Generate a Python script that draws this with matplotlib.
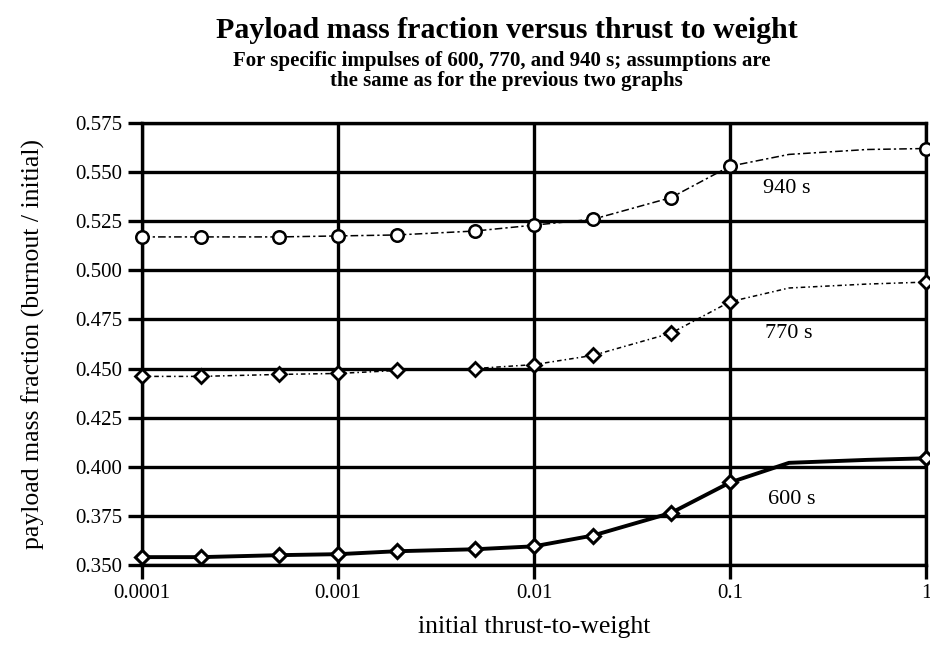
import matplotlib
matplotlib.use("Agg")
import matplotlib.pyplot as plt

plt.rcParams['font.family'] = ['Liberation Serif', 'DejaVu Serif']

# thrust-to-weight values (markers at every point except 0.2 and 0.5)
tw = [0.0001, 0.0002, 0.0005, 0.001, 0.002, 0.005, 0.01, 0.02, 0.05, 0.1, 0.2, 0.5, 1]
marked = [0, 1, 2, 3, 4, 5, 6, 7, 8, 9, 12]

isp940 = [0.517, 0.517, 0.517, 0.5175, 0.518, 0.520, 0.523, 0.526, 0.537, 0.553, 0.559, 0.5615, 0.562]
isp770 = [0.446, 0.446, 0.447, 0.4475, 0.449, 0.450, 0.452, 0.4567, 0.468, 0.484, 0.491, 0.493, 0.494]
isp600 = [0.354, 0.354, 0.355, 0.3555, 0.357, 0.358, 0.3595, 0.365, 0.3765, 0.392, 0.402, 0.4035, 0.4043]

yticks = [0.350, 0.375, 0.400, 0.425, 0.450, 0.475, 0.500, 0.525, 0.550, 0.575]
xticks = [0.0001, 0.001, 0.01, 0.1, 1]
xticklabels = ['0.0001', '0.001', '0.01', '0.1', '1']

fig = plt.figure(figsize=(9.3, 6.5), dpi=100)
ax = fig.add_axes([0.1527, 0.1308, 0.843, 0.68])

ax.set_xscale('log')
ax.set_xlim(0.0001, 1)
ax.set_ylim(0.350, 0.575)

# heavy grid
for y in yticks:
    ax.axhline(y, color='black', lw=2.4, zorder=1)
for x in xticks:
    ax.axvline(x, color='black', lw=2.4, zorder=1)

ax.plot(tw, isp940, color='black', lw=1.1, ls=(0, (5, 2, 1.5, 2)),
        marker='o', markevery=marked, ms=9, mfc='white', mec='black', mew=1.8,
        zorder=3, clip_on=False)
ax.plot(tw, isp770, color='black', lw=1.1, ls=(0, (3, 2, 1, 2)),
        marker='D', markevery=marked, ms=7, mfc='white', mec='black', mew=2.0,
        zorder=3, clip_on=False)
ax.plot(tw, isp600, color='black', lw=2.8, ls='-',
        marker='D', markevery=marked, ms=7, mfc='white', mec='black', mew=2.2,
        zorder=3, clip_on=False)

ax.text(0.147, 0.5414, '940 s', fontsize=16, va='center', ha='left')
ax.text(0.150, 0.4676, '770 s', fontsize=16, va='center', ha='left')
ax.text(0.156, 0.3835, '600 s', fontsize=16, va='center', ha='left')

ax.set_xticks(xticks)
ax.set_xticklabels(xticklabels)
ax.minorticks_off()
ax.set_yticks(yticks)
ax.set_yticklabels(['%.3f' % v for v in yticks])
ax.tick_params(axis='both', direction='out', length=10, width=2.4,
               labelsize=15, pad=4)
for s in ax.spines.values():
    s.set_linewidth(2.4)

ax.set_xlabel('initial thrust-to-weight', fontsize=18.5, labelpad=9)
ax.set_ylabel('payload mass fraction (burnout / initial)', fontsize=18.5, labelpad=22)

fig.text(0.545, 0.953, 'Payload mass fraction versus thrust to weight',
         ha='center', va='center', fontsize=21.5, fontweight='bold')
fig.text(0.540, 0.906, 'For specific impulses of 600, 770, and 940 s; assumptions are',
         ha='center', va='center', fontsize=15, fontweight='bold')
fig.text(0.545, 0.875, 'the same as for the previous two graphs',
         ha='center', va='center', fontsize=15, fontweight='bold')

fig.savefig('out.png', dpi=100)
